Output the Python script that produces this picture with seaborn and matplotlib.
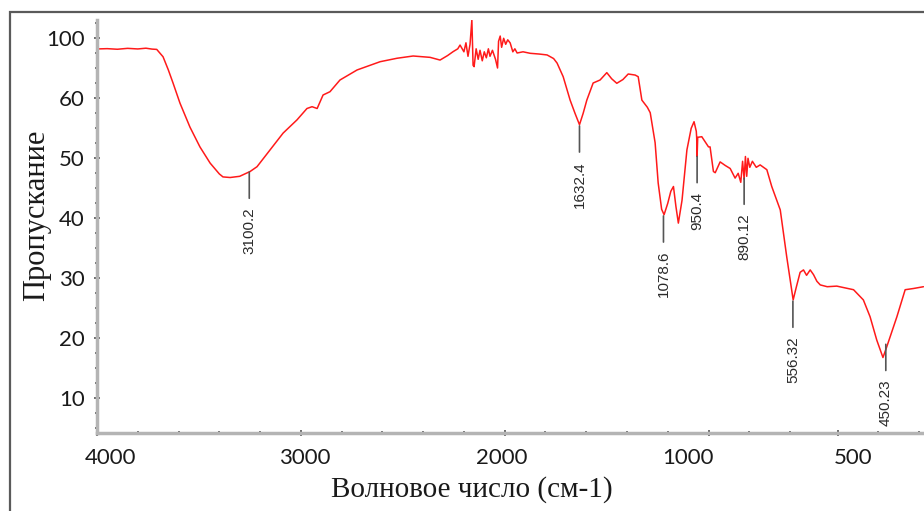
import numpy as np
import pandas as pd
import matplotlib
matplotlib.use('Agg')
import matplotlib.pyplot as plt
import matplotlib.transforms as mtransforms
from matplotlib.patches import Rectangle
from matplotlib.ticker import FixedLocator, FixedFormatter
import seaborn as sns

# IR spectrum (wavenumber, transmittance)
wavenumber = [4000, 3950, 3900, 3850, 3800, 3760, 3730, 3707, 3676, 3650, 3627, 3593,
              3544, 3495, 3445, 3400, 3382, 3347, 3300, 3249, 3215, 3151, 3087, 3019,
              2970, 2945, 2920, 2891, 2857, 2808, 2760, 2724, 2611, 2528, 2449, 2366,
              2317, 2280, 2253, 2230, 2219, 2200, 2190, 2180, 2170, 2161, 2155, 2150,
              2140, 2130, 2121, 2110, 2100, 2090, 2080, 2072, 2060, 2045, 2035, 2030,
              2022, 2015, 2005, 1995, 1985, 1973, 1960, 1950, 1939, 1910, 1875, 1830,
              1792, 1760, 1743, 1713, 1679, 1655, 1633, 1615, 1597, 1566, 1532, 1499,
              1475, 1450, 1420, 1394, 1360, 1345, 1327, 1300, 1286, 1262, 1247, 1230,
              1218, 1200, 1185, 1172, 1160, 1148, 1130, 1106, 1085, 1071, 1060, 1058,
              1056, 1053, 1033, 1000, 994, 981, 974, 955, 935, 916, 897, 885, 875,
              868, 862, 857, 852, 847, 840, 830, 815, 800, 774, 755, 722, 697, 672,
              660, 645, 632, 620, 606, 593, 580, 567, 540, 503, 470, 438, 400, 374,
              348, 324, 310, 296, 270, 238, 206, 167]
transmittance = [92.9, 93.1, 92.7, 93.3, 92.9, 93.4, 92.8, 92.6, 87.7, 78.9, 70.2, 59.2,
                 55.2, 51.9, 49.2, 47.4, 46.9, 46.8, 47.0, 47.8, 48.6, 51.4, 54.2, 56.4,
                 58.3, 58.6, 58.3, 62.2, 64.4, 72.2, 76.0, 78.9, 84.4, 86.7, 88.2, 87.3,
                 85.5, 88.5, 91.1, 93.0, 95.5, 91.0, 97.0, 88.0, 96.0, 112.2, 82.0, 81.1,
                 93.0, 86.0, 92.0, 85.0, 91.0, 87.0, 93.0, 88.0, 92.0, 86.0, 80.2, 98.0,
                 101.5, 94.0, 100.0, 96.0, 99.0, 96.9, 91.0, 93.0, 90.2, 91.0, 90.0, 89.5,
                 88.9, 86.5, 83.5, 74.4, 59.7, 57.5, 55.6, 57.5, 59.7, 70.2, 72.2, 77.1,
                 73.0, 70.0, 72.5, 76.2, 75.5, 74.4, 59.7, 58.5, 57.6, 52.6, 45.9, 41.5,
                 40.6, 42.5, 44.5, 45.3, 42.0, 39.2, 43.0, 51.4, 55.0, 56.1, 54.5, 53.4,
                 50.3, 53.5, 53.6, 51.9, 51.9, 47.8, 47.6, 49.4, 48.8, 48.3, 46.7, 47.5, 46.0,
                 49.5, 46.5, 50.3, 47.0, 50.0, 48.5, 49.5, 48.5, 48.9, 48.1, 45.3, 41.4, 33.6, 26.4,
                 28.5, 31.0, 31.4, 30.5, 31.4, 30.6, 29.5, 28.9, 28.6, 28.7, 28.4, 28.1, 26.4, 23.6,
                 19.7, 16.8, 18.5, 20.3, 23.6, 28.1, 28.3, 28.6]

peak_labels = ['3100.2', '1632.4', '1078.6', '950.4', '890.12', '556.32', '450.23']
peak_x = [3253, 1633, 1221, 1056, 862, 673, 313]
peak_y = [47.7, 55.4, 40.4, 50.3, 46.7, 26.2, 19.0]

x_ticks = [4000, 3000, 2000, 1000, 500]
x_minor = list(range(3800, 1000, -200)) + [843, 684, 344, 186]
y_ticks = [10, 20, 30, 40, 50, 60, 100]
y_minor = list(np.arange(5, 60, 2.5)) + [70, 80, 90, 110]

df = pd.DataFrame({'wn': wavenumber, 'T': transmittance})


# axis breaks: x is stretched below 1000, y squeezed above 60
def fwd_x(w):
    w = np.asarray(w, dtype=float)
    return np.where(w >= 1000, w, 1000 - (1000 - w) * 1.266)


def inv_x(u):
    u = np.asarray(u, dtype=float)
    return np.where(u >= 1000, u, 1000 - (1000 - u) / 1.266)


def fwd_y(v):
    v = np.asarray(v, dtype=float)
    return np.where(v <= 60, v, 60 + (v - 60) / 4)


def inv_y(u):
    u = np.asarray(u, dtype=float)
    return np.where(u <= 60, u, 60 + (u - 60) * 4)


sns.set_theme(style='white')
plt.rcParams['font.family'] = ['Lato', 'DejaVu Sans']

fig = plt.figure(figsize=(9.24, 5.11), dpi=100)
ax = fig.add_axes([97 / 924, 78.3 / 511, 827 / 924, 412.7 / 511])
ax.set_xscale('function', functions=(fwd_x, inv_x))
ax.set_yscale('function', functions=(fwd_y, inv_y))

sns.lineplot(data=df, x='wn', y='T', color='#ff1a1a', linewidth=1.1,
             estimator=None, sort=False, ax=ax)

ax.set_xlim(4000, 165)
ax.set_ylim(4.27, 112.2)

ax.xaxis.set_major_locator(FixedLocator(x_ticks))
ax.xaxis.set_major_formatter(FixedFormatter([str(t) for t in x_ticks]))
ax.xaxis.set_minor_locator(FixedLocator(x_minor))
ax.yaxis.set_major_locator(FixedLocator(y_ticks))
ax.yaxis.set_major_formatter(FixedFormatter([str(t) for t in y_ticks]))
ax.yaxis.set_minor_locator(FixedLocator(y_minor))
ax.xaxis.set_minor_formatter(FixedFormatter([]))
ax.yaxis.set_minor_formatter(FixedFormatter([]))

ax.tick_params(which='both', direction='inout', color='#555555', width=1.2,
               labelsize=16, labelcolor='#1a1a1a', bottom=True, left=True)
ax.tick_params(which='major', length=4)
ax.tick_params(which='minor', length=3)
ax.tick_params(axis='x', pad=9)
ax.tick_params(axis='y', pad=7)

# the x labels in the picture sit a little off their ticks
label_shift_px = [14, 4, -3, -21, 16]
fig.canvas.draw()
for lab, dx in zip(ax.get_xticklabels(), label_shift_px):
    lab.set_transform(lab.get_transform() +
                      mtransforms.ScaledTranslation(dx / 100, 0, fig.dpi_scale_trans))

for side in ['top', 'right']:
    ax.spines[side].set_visible(False)
for side in ['left', 'bottom']:
    ax.spines[side].set_color('#b4b4b4')
    ax.spines[side].set_linewidth(2.5)
ax.set_xlabel('')
ax.set_ylabel('')

# peak markers
for lab, px, py in zip(peak_labels, peak_x, peak_y):
    ax.annotate(lab, xy=(px, py), xytext=(0, -35), textcoords='offset pixels',
                rotation=90, ha='center', va='top', fontsize=11,
                family=['Liberation Sans', 'DejaVu Sans'], color='#2a2a2a',
                arrowprops=dict(arrowstyle='-', color='#555555', lw=1.2,
                                shrinkA=4, shrinkB=0))

fig.text(472 / 924, 21 / 511, 'Волновое число (см-1)', ha='center', va='center',
         fontsize=21, family=['Liberation Serif', 'DejaVu Serif'], color='#1a1a1a')
fig.text(37 / 924, 296 / 511, 'Пропускание', ha='center', va='center', rotation=90,
         fontsize=22, family=['Liberation Serif', 'DejaVu Serif'], color='#1a1a1a')

# outer frame of the picture
fig.add_artist(Rectangle((10 / 924, -0.1), 1.0, (511 - 12) / 511 + 0.1,
                         transform=fig.transFigure, fill=False,
                         edgecolor='#5a5a5a', linewidth=1.6))

fig.savefig('out.png', dpi=100)
plt.close()
